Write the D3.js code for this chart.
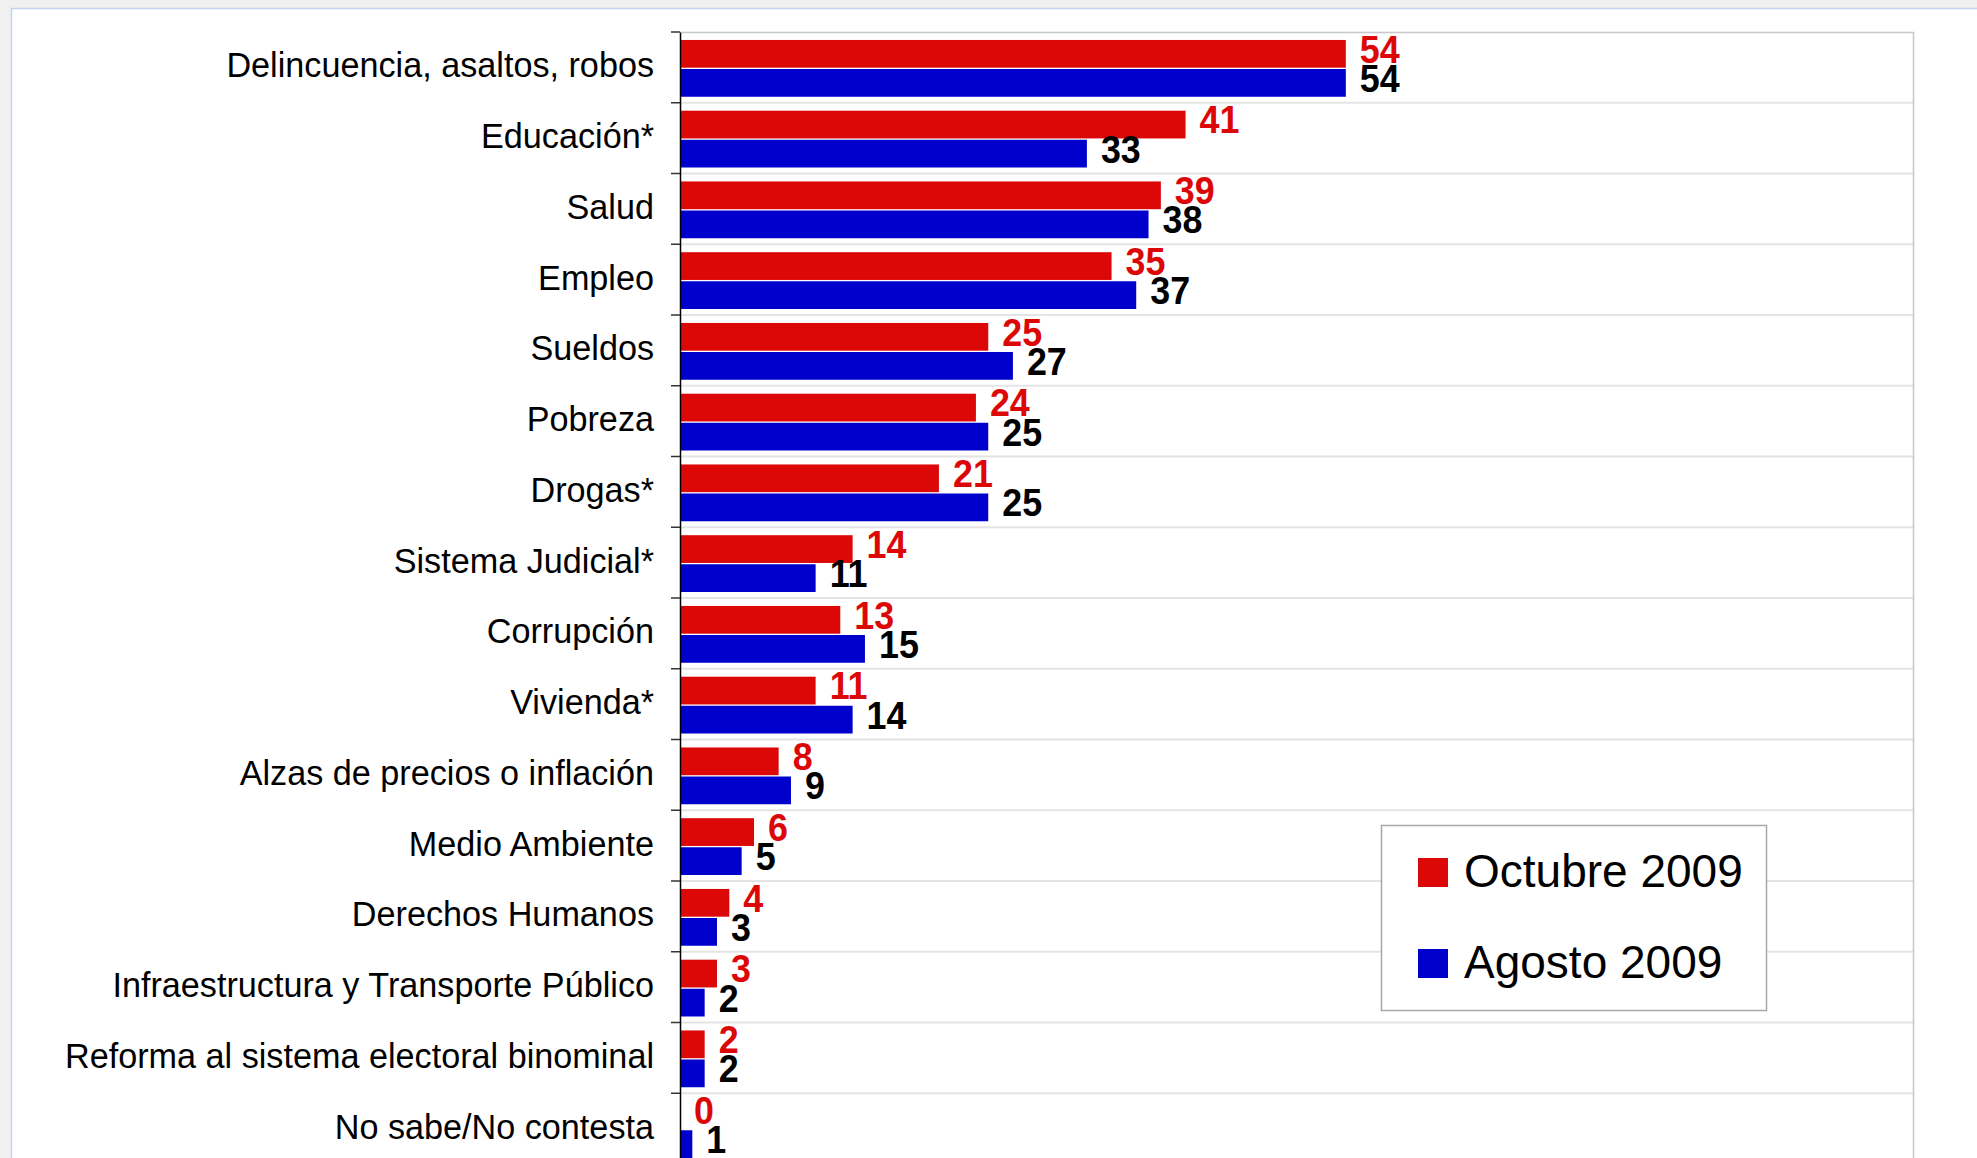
<!DOCTYPE html>
<html>
<head>
<meta charset="utf-8">
<script src="https://cdn.jsdelivr.net/npm/d3@7"></script>
<style>
    html, body { margin: 0; padding: 0; background: #f0f0f0; overflow: hidden; }
    svg { display: block; }
</style>
</head>
<body>
<div id="chart"></div>
<script>
// categories, top to bottom
const categories = [
    'Delincuencia, asaltos, robos',
    'Educación*',
    'Salud',
    'Empleo',
    'Sueldos',
    'Pobreza',
    'Drogas*',
    'Sistema Judicial*',
    'Corrupción',
    'Vivienda*',
    'Alzas de precios o inflación',
    'Medio Ambiente',
    'Derechos Humanos',
    'Infraestructura y Transporte Público',
    'Reforma al sistema electoral binominal',
    'No sabe/No contesta'
];

const series = ['Octubre 2009', 'Agosto 2009'];
const octubre = [54, 41, 39, 35, 25, 24, 21, 14, 13, 11, 8, 6, 4, 3, 2, 0];
const agosto = [54, 33, 38, 37, 27, 25, 25, 11, 15, 14, 9, 5, 3, 2, 2, 1];

const COLORS = { 'Octubre 2009': '#dc0808', 'Agosto 2009': '#0000cc' };
const LABEL_COLORS = { 'Octubre 2009': '#dc0808', 'Agosto 2009': '#000000' };

const W = 1977, H = 1158;
const PLOT = { left: 680, right: 1913, top: 32, band: 70.75 };
const FONT = '"Liberation Sans", Arial, sans-serif';

const svg = d3.select('#chart').append('svg')
    .attr('width', W)
    .attr('height', H);

// page background + white panel
svg.append('rect').attr('width', W).attr('height', H).attr('fill', '#f0f0f0');
svg.append('rect')
    .attr('x', 11.5).attr('y', 8.5)
    .attr('width', W).attr('height', H)
    .attr('fill', '#ffffff')
    .attr('stroke', '#c4d3f2')
    .attr('stroke-width', 1.5);

const x = d3.scaleLinear()
    .domain([0, 100])
    .range([PLOT.left, PLOT.right]);

const y = d3.scaleBand()
    .domain(categories)
    .range([PLOT.top, PLOT.top + PLOT.band * categories.length]);

const ySub = d3.scaleBand()
    .domain(series)
    .range([0, y.bandwidth()])
    .paddingInner(0.045)
    .paddingOuter(0.24)
    .align(0.57);

const rows = categories.map((c, i) => ({
    category: c,
    values: [
        { key: series[0], value: octubre[i] },
        { key: series[1], value: agosto[i] }
    ]
}));

// gridlines at band boundaries
const boundaries = categories.slice(1).map(c => y(c));
svg.append('g')
    .selectAll('line')
    .data(boundaries)
    .join('line')
    .attr('x1', PLOT.left).attr('x2', PLOT.right)
    .attr('y1', d => d).attr('y2', d => d)
    .attr('stroke', '#e4e4e4')
    .attr('stroke-width', 2);

// plot frame (top + right)
svg.append('path')
    .attr('d', `M${PLOT.left},${PLOT.top + 0.5}H${PLOT.right + 0.5}V${H}`)
    .attr('fill', 'none')
    .attr('stroke', '#c8c8c8')
    .attr('stroke-width', 1.5);

// bars
const groups = svg.append('g')
    .selectAll('g')
    .data(rows)
    .join('g')
    .attr('transform', d => `translate(0,${y(d.category)})`);

groups.selectAll('rect')
    .data(d => d.values)
    .join('rect')
    .attr('x', x(0))
    .attr('y', d => ySub(d.key))
    .attr('width', d => x(d.value) - x(0))
    .attr('height', ySub.bandwidth())
    .attr('fill', d => COLORS[d.key]);

// value labels (condensed bold look)
groups.selectAll('text')
    .data(d => d.values)
    .join('text')
    .attr('transform', d => `translate(${x(d.value) + 14},${ySub(d.key) + ySub.bandwidth() - 5}) scale(0.92,1)`)
    .attr('fill', d => LABEL_COLORS[d.key])
    .attr('font-family', FONT)
    .attr('font-weight', 'bold')
    .attr('font-size', 39)
    .text(d => d.value);

// left axis with category labels
const axis = svg.append('g')
    .attr('transform', `translate(${PLOT.left},0)`)
    .call(d3.axisLeft(y).tickSize(0).tickPadding(26).tickSizeOuter(0));
axis.select('.domain').attr('stroke', '#000').attr('stroke-width', 1.5);
axis.selectAll('text')
    .attr('font-family', FONT)
    .attr('font-size', 34.2)
    .attr('fill', '#000')
    .attr('dy', '0.29em');

// tick marks between categories
svg.append('g')
    .selectAll('line')
    .data([PLOT.top].concat(boundaries))
    .join('line')
    .attr('x1', PLOT.left - 9).attr('x2', PLOT.left)
    .attr('y1', d => d).attr('y2', d => d)
    .attr('stroke', '#333')
    .attr('stroke-width', 1.5);

// legend
const legend = svg.append('g').attr('transform', 'translate(1381,825)');
legend.append('rect')
    .attr('x', 0.5).attr('y', 0.5)
    .attr('width', 385).attr('height', 185)
    .attr('fill', '#fff')
    .attr('stroke', '#a8a8a8')
    .attr('stroke-width', 1.5);

const item = legend.selectAll('g.item')
    .data(series)
    .join('g')
    .attr('class', 'item')
    .attr('transform', (d, i) => `translate(0,${i * 91})`);

item.append('rect')
    .attr('x', 37).attr('y', 33)
    .attr('width', 30).attr('height', 29)
    .attr('fill', d => COLORS[d]);

item.append('text')
    .attr('x', 83).attr('y', 62)
    .attr('font-family', FONT)
    .attr('font-size', 46)
    .attr('fill', '#000')
    .text(d => d);
</script>
</body>
</html>
